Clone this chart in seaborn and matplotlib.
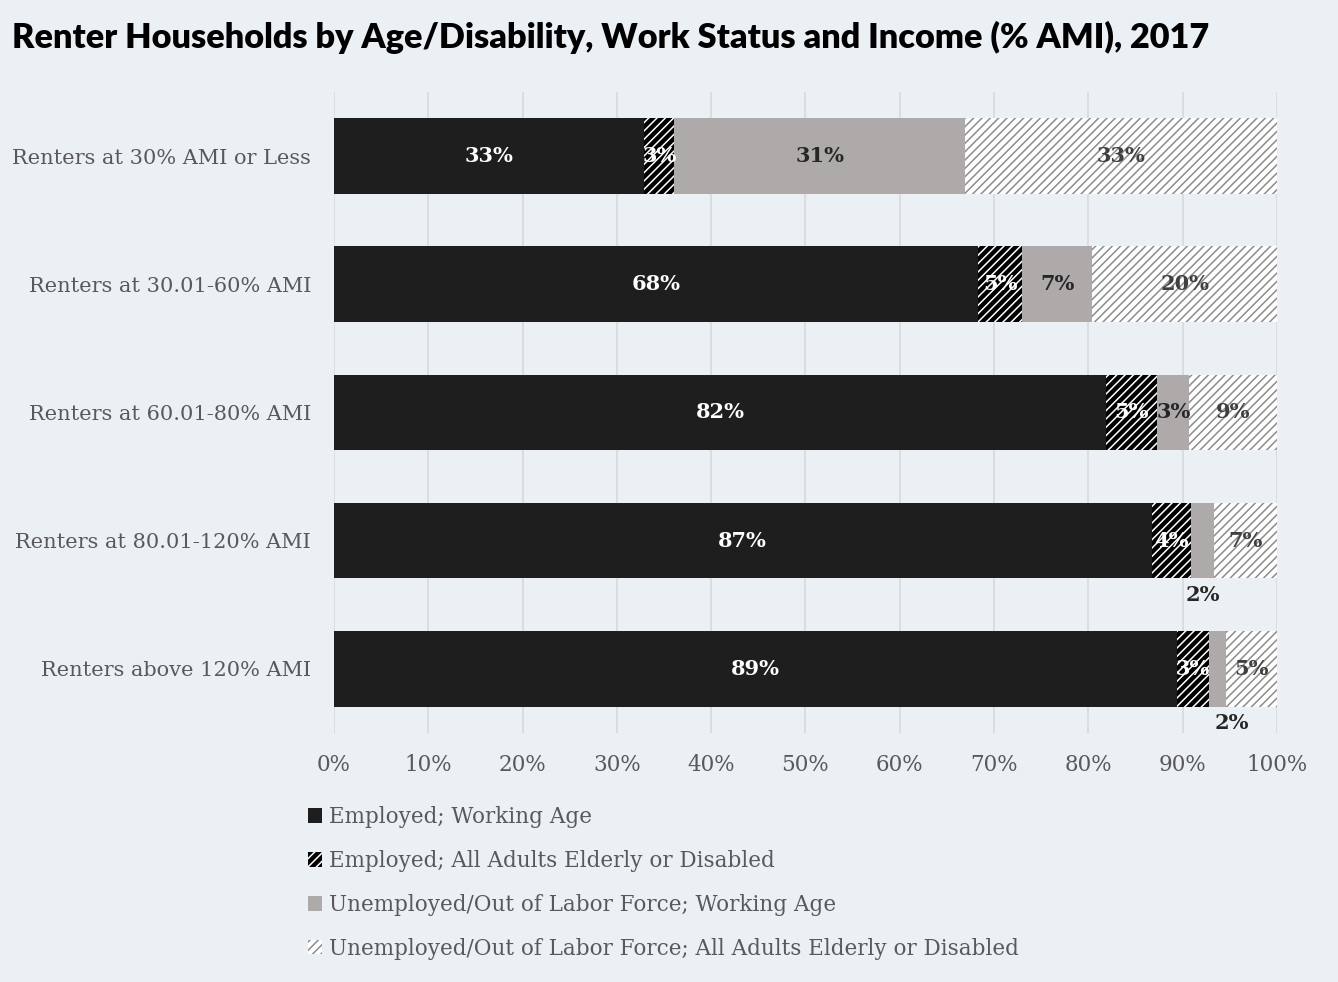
import matplotlib
matplotlib.use("Agg")
import matplotlib.pyplot as plt
from matplotlib.patches import Patch
import numpy as np
import pandas as pd
import seaborn as sns

# Income groups (rows, top to bottom)
categories = [
    "Renters at 30% AMI or Less",
    "Renters at 30.01-60% AMI",
    "Renters at 60.01-80% AMI",
    "Renters at 80.01-120% AMI",
    "Renters above 120% AMI",
]

# Share of renter households (%) in each work / age-disability group
employed_working_age = [32.9, 68.3, 81.9, 86.7, 89.4]
employed_elderly_disabled = [3.2, 4.7, 5.4, 4.2, 3.4]
unemployed_working_age = [30.8, 7.4, 3.4, 2.4, 1.8]
unemployed_elderly_disabled = [33.1, 19.6, 9.3, 6.7, 5.4]

series_names = [
    "Employed; Working Age",
    "Employed; All Adults Elderly or Disabled",
    "Unemployed/Out of Labor Force; Working Age",
    "Unemployed/Out of Labor Force; All Adults Elderly or Disabled",
]

xtick_values = list(range(0, 101, 10))
xtick_labels = [f"{v}%" for v in xtick_values]

title = "Renter Households by Age/Disability, Work Status and Income (% AMI), 2017"

# ---- styling ----
BG = "#EBF0F5"
TEXT = "#595959"
GRID = "#D9D9D9"
face_colors = ["#1E1E1E", "#000000", "#AEAAAA", "#FFFFFF"]
hatch_colors = [None, "#FFFFFF", None, "#8C8C8C"]
hatches = [None, "////", None, "////"]
label_colors = ["#FFFFFF", "#FFFFFF", "#262626", "#404040"]

sns.set_theme(style="white")
plt.rcParams["hatch.linewidth"] = 1.1
serif = ["DejaVu Serif"]

series = [employed_working_age, employed_elderly_disabled,
          unemployed_working_age, unemployed_elderly_disabled]
vals = np.array(series)            # shape (4, 5)
cum = np.cumsum(vals, axis=0)      # right edge of each segment
left = cum - vals

fig = plt.figure(figsize=(13.38, 9.82), dpi=100, facecolor=BG)
ax = fig.add_axes([0.2496, 0.2536, 0.7048, 0.6527])
ax.set_facecolor(BG)

# Stacked bars: draw cumulative totals from the outermost segment inward
bar_h = 0.59
for i in reversed(range(4)):
    df = pd.DataFrame({"cat": categories, "right": cum[i]})
    kw = dict(linewidth=0)
    if hatches[i]:
        kw.update(hatch=hatches[i], edgecolor=hatch_colors[i])
    else:
        kw.update(edgecolor=face_colors[i])
    sns.barplot(data=df, x="right", y="cat", orient="y", color=face_colors[i],
                saturation=1, width=bar_h, ax=ax, zorder=2, **kw)

# Value labels
for i in range(4):
    for r in range(len(categories)):
        v = vals[i, r]
        xc = left[i, r] + v / 2
        txt = f"{v:.0f}%"
        if i == 2 and v < 2.5:
            # narrow segment: label sits under the bar
            ax.text(xc + (1.5 if r == 4 else 0), r + bar_h / 2 + 0.13, txt,
                    ha="center", va="center", fontsize=15, fontweight="bold",
                    color="#262626", family=serif, zorder=4)
        else:
            ax.text(xc, r, txt, ha="center", va="center", fontsize=15,
                    fontweight="bold", color=label_colors[i], family=serif,
                    zorder=4)

ax.set_xlim(0, 100)
ax.set_ylim(len(categories) - 0.5, -0.5)
ax.set_xticks(xtick_values)
ax.set_xticklabels(xtick_labels)
ax.set_xlabel("")
ax.set_ylabel("")
ax.grid(axis="x", color=GRID, linewidth=1.2, zorder=0)
ax.set_axisbelow(True)
for s in ax.spines.values():
    s.set_visible(False)
ax.tick_params(axis="x", length=0, pad=15, labelsize=15.5, labelcolor=TEXT)
ax.tick_params(axis="y", length=0, pad=16.5, labelsize=15, labelcolor=TEXT)
for lab in ax.get_xticklabels() + ax.get_yticklabels():
    lab.set_family(serif)

# Legend
handles = []
for i in range(4):
    if hatches[i]:
        h = Patch(facecolor=face_colors[i], edgecolor=hatch_colors[i],
                  hatch=hatches[i], linewidth=0)
    else:
        h = Patch(facecolor=face_colors[i], edgecolor=face_colors[i], linewidth=0)
    handles.append(h)
leg = fig.legend(handles, series_names, loc="upper left",
                 bbox_to_anchor=(0.224, 0.188), frameon=False,
                 handlelength=0.65, handleheight=0.65, handletextpad=0.3,
                 labelspacing=1.02, borderaxespad=0,
                 prop={"family": serif, "size": 15.5})
for t in leg.get_texts():
    t.set_color(TEXT)

fig.text(0.009, 0.962, title, ha="left", va="center", fontsize=24.7,
         fontweight="heavy", family=["Lato", "DejaVu Sans"], color="#000000")

fig.savefig("out.png", dpi=100, facecolor=BG)
